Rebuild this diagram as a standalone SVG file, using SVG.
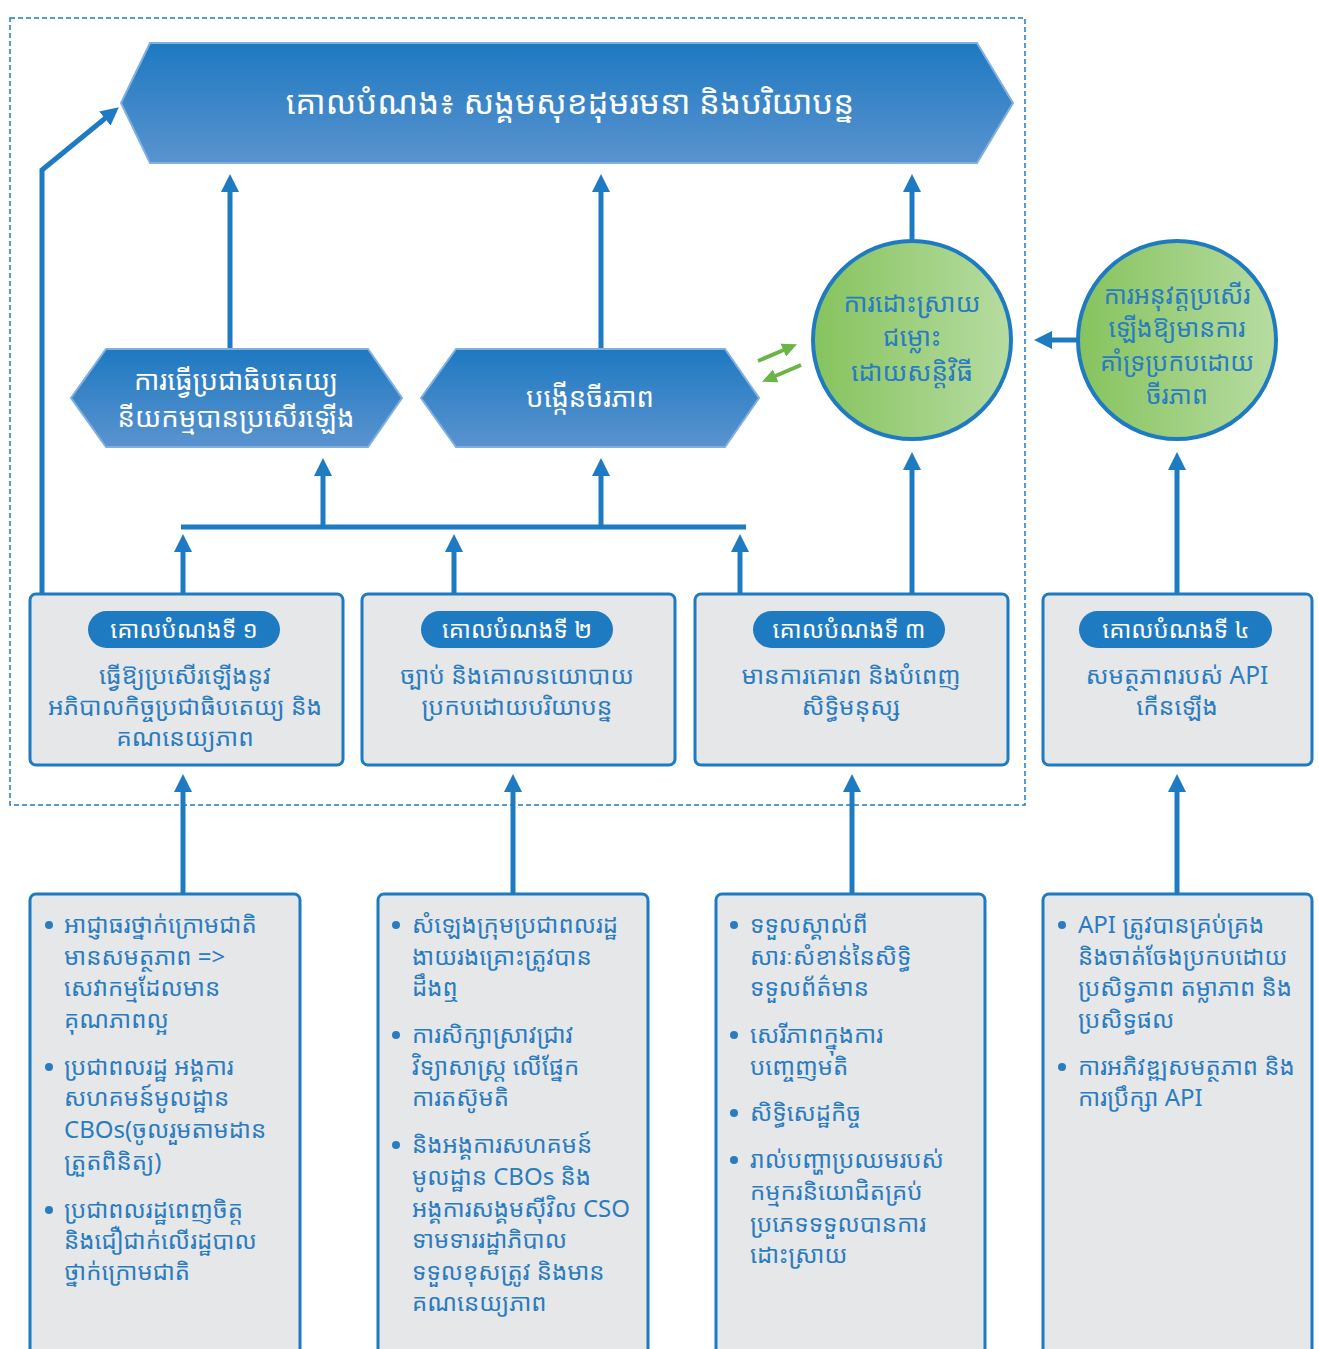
<svg xmlns="http://www.w3.org/2000/svg" width="1319" height="1349" viewBox="0 0 1319 1349">
<style>
.k{font-family:"Noto Sans Khmer","Khmer OS System","Khmer OS","Noto Sans",sans-serif;}
.hex{stroke:#7fb0e0;stroke-width:2;}
.ht{fill:#ffffff;text-anchor:middle;}
.circ{stroke:#1f7bc1;stroke-width:4;}
.ct{fill:#2a7cc0;text-anchor:middle;}
.box{fill:#e6e7e9;stroke:#1f7bc1;stroke-width:3;}
.pill{fill:#1f7bc1;}
.pt{fill:#ffffff;font-size:24px;text-anchor:middle;}
.gt{fill:#2a7cc0;font-size:24.5px;text-anchor:middle;}
.bt{fill:#2a7cc0;font-size:24px;}
.dot{fill:#2a7cc0;}
.con{fill:none;stroke:#1f7bc1;stroke-width:5;}
.g{fill:none;stroke:#6ab546;stroke-width:4;}
</style>
<defs>
<linearGradient id="hg" x1="0" y1="0" x2="0" y2="1">
<stop offset="0" stop-color="#1e79c1"/>
<stop offset="1" stop-color="#5a93cf"/>
</linearGradient>
<linearGradient id="cg" x1="0" y1="0" x2="1" y2="0">
<stop offset="0" stop-color="#86c35d"/>
<stop offset="1" stop-color="#b7dca2"/>
</linearGradient>
<marker id="ah" markerUnits="userSpaceOnUse" markerWidth="20" markerHeight="20" viewBox="0 0 20 20" refX="4" refY="10" orient="auto">
<path d="M0,1 L18,10 L0,19 z" fill="#1f7bc1"/>
</marker>
<marker id="ag" markerUnits="userSpaceOnUse" markerWidth="16" markerHeight="16" viewBox="0 0 16 16" refX="3" refY="8" orient="auto">
<path d="M0,1 L15,8 L0,15 z" fill="#6ab546"/>
</marker>
</defs>
<rect x="10" y="18" width="1015" height="787" fill="none" stroke="#1f7bc1" stroke-width="1.5" stroke-dasharray="5 3"/>

<g id="connectors">
<path class="con" d="M42,593 V170 L108,116" marker-end="url(#ah)"/>
<path class="con" d="M230,348 V188" marker-end="url(#ah)"/>
<path class="con" d="M601,348 V188" marker-end="url(#ah)"/>
<path class="con" d="M912,240 V188" marker-end="url(#ah)"/>
<path class="con" d="M323,527 V472" marker-end="url(#ah)"/>
<path class="con" d="M601,527 V472" marker-end="url(#ah)"/>
<path class="con" d="M181,527 H746"/>
<path class="con" d="M183,593 V548" marker-end="url(#ah)"/>
<path class="con" d="M454,593 V548" marker-end="url(#ah)"/>
<path class="con" d="M740,593 V548" marker-end="url(#ah)"/>
<path class="con" d="M912,593 V466" marker-end="url(#ah)"/>
<path class="con" d="M1177,593 V466" marker-end="url(#ah)"/>
<path class="con" d="M1077,340 H1048" marker-end="url(#ah)"/>
<path class="con" d="M183,893 V788" marker-end="url(#ah)"/>
<path class="con" d="M513,893 V788" marker-end="url(#ah)"/>
<path class="con" d="M852,893 V788" marker-end="url(#ah)"/>
<path class="con" d="M1177,893 V788" marker-end="url(#ah)"/>
<path class="g" d="M758,361 L786,349" marker-end="url(#ag)"/>
<path class="g" d="M801,365 L773,377" marker-end="url(#ag)"/>
</g>

<g id="goal">
<polygon class="hex" fill="url(#hg)" points="150,43 977,43 1013,103 977,163 150,163 121,103"/>
<text class="k ht" x="570" y="114" font-size="33">គោលបំណង៖ សង្គមសុខដុមរមនា និងបរិយាបន្ន</text>
</g>

<g id="democracy">
<polygon class="hex" fill="url(#hg)" points="106,349 368,349 402,398 368,447 106,447 71,398"/>
<text class="k ht" x="236" y="390" font-size="27.5">ការធ្វើប្រជាធិបតេយ្យ</text>
<text class="k ht" x="236" y="427" font-size="27.5">នីយកម្មបានប្រសើរឡើង</text>
</g>

<g id="sustain">
<polygon class="hex" fill="url(#hg)" points="456,349 725,349 759,398 725,447 456,447 421,398"/>
<text class="k ht" x="590" y="407" font-size="27.5">បង្កើនចីរភាព</text>
</g>

<g id="conflict">
<circle class="circ" cx="912" cy="340" r="99" fill="url(#cg)"/>
<text class="k ct" x="912" y="312" font-size="26">ការដោះស្រាយ</text>
<text class="k ct" x="912" y="346" font-size="26">ជម្លោះ</text>
<text class="k ct" x="912" y="381" font-size="26">ដោយសន្តិវិធី</text>
</g>

<g id="support">
<circle class="circ" cx="1177" cy="340" r="99" fill="url(#cg)"/>
<text class="k ct" x="1177" y="304" font-size="25">ការអនុវត្តប្រសើរ</text>
<text class="k ct" x="1177" y="337" font-size="25">ឡើងឱ្យមានការ</text>
<text class="k ct" x="1177" y="371" font-size="25">គាំទ្រប្រកបដោយ</text>
<text class="k ct" x="1177" y="404" font-size="25">ចីរភាព</text>
</g>

<g id="obj1">
<rect class="box" x="30" y="594" width="313" height="171" rx="6"/>
<rect class="pill" x="88" y="611" width="192" height="37" rx="18.5"/>
<text class="k pt" x="184" y="638">គោលបំណងទី ១</text>
<text class="k gt" x="185" y="684">ធ្វើឱ្យប្រសើរឡើងនូវ</text>
<text class="k gt" x="185" y="715">អភិបាលកិច្ចប្រជាធិបតេយ្យ និង</text>
<text class="k gt" x="185" y="746">គណនេយ្យភាព</text>
</g>

<g id="obj2">
<rect class="box" x="362" y="594" width="313" height="171" rx="6"/>
<rect class="pill" x="421" y="611" width="192" height="37" rx="18.5"/>
<text class="k pt" x="517" y="638">គោលបំណងទី ២</text>
<text class="k gt" x="517" y="684">ច្បាប់ និងគោលនយោបាយ</text>
<text class="k gt" x="517" y="715">ប្រកបដោយបរិយាបន្ន</text>
</g>

<g id="obj3">
<rect class="box" x="695" y="594" width="313" height="171" rx="6"/>
<rect class="pill" x="753" y="611" width="192" height="37" rx="18.5"/>
<text class="k pt" x="849" y="638">គោលបំណងទី ៣</text>
<text class="k gt" x="851" y="684">មានការគោរព និងបំពេញ</text>
<text class="k gt" x="851" y="715">សិទ្ធិមនុស្ស</text>
</g>

<g id="obj4">
<rect class="box" x="1043" y="594" width="269" height="171" rx="6"/>
<rect class="pill" x="1079" y="611" width="193" height="37" rx="18.5"/>
<text class="k pt" x="1176" y="638">គោលបំណងទី ៤</text>
<text class="k gt" x="1177" y="684">សមត្ថភាពរបស់ API</text>
<text class="k gt" x="1177" y="715">កើនឡើង</text>
</g>

<g id="out1">
<rect class="box" x="30" y="894" width="270" height="470" rx="6"/>
<circle class="dot" cx="49" cy="925" r="4"/>
<text class="k bt" x="64" y="933">អាជ្ញាធរថ្នាក់ក្រោមជាតិ</text>
<text class="k bt" x="64" y="965">មានសមត្ថភាព =&gt;</text>
<text class="k bt" x="64" y="996">សេវាកម្មដែលមាន</text>
<text class="k bt" x="64" y="1028">គុណភាពល្អ</text>
<circle class="dot" cx="49" cy="1067" r="4"/>
<text class="k bt" x="64" y="1075">ប្រជាពលរដ្ឋ អង្គការ</text>
<text class="k bt" x="64" y="1106">សហគមន៍មូលដ្ឋាន</text>
<text class="k bt" x="64" y="1138">CBOs(ចូលរួមតាមដាន</text>
<text class="k bt" x="64" y="1170">ត្រួតពិនិត្យ)</text>
<circle class="dot" cx="49" cy="1210" r="4"/>
<text class="k bt" x="64" y="1218">ប្រជាពលរដ្ឋពេញចិត្ត</text>
<text class="k bt" x="64" y="1249">និងជឿជាក់លើរដ្ឋបាល</text>
<text class="k bt" x="64" y="1280">ថ្នាក់ក្រោមជាតិ</text>
</g>

<g id="out2">
<rect class="box" x="378" y="894" width="270" height="470" rx="6"/>
<circle class="dot" cx="396" cy="925" r="4"/>
<text class="k bt" x="412" y="933">សំឡេងក្រុមប្រជាពលរដ្ឋ</text>
<text class="k bt" x="412" y="965">ងាយរងគ្រោះត្រូវបាន</text>
<text class="k bt" x="412" y="996">ដឹងឮ</text>
<circle class="dot" cx="396" cy="1035" r="4"/>
<text class="k bt" x="412" y="1043">ការសិក្សាស្រាវជ្រាវ</text>
<text class="k bt" x="412" y="1075">វិទ្យាសាស្ត្រ លើផ្នែក</text>
<text class="k bt" x="412" y="1106">ការតស៊ូមតិ</text>
<circle class="dot" cx="396" cy="1145" r="4"/>
<text class="k bt" x="412" y="1153">និងអង្គការសហគមន៍</text>
<text class="k bt" x="412" y="1185">មូលដ្ឋាន CBOs និង</text>
<text class="k bt" x="412" y="1217">អង្គការសង្គមស៊ីវិល CSO</text>
<text class="k bt" x="412" y="1248">ទាមទាររដ្ឋាភិបាល</text>
<text class="k bt" x="412" y="1280">ទទួលខុសត្រូវ និងមាន</text>
<text class="k bt" x="412" y="1311">គណនេយ្យភាព</text>
</g>

<g id="out3">
<rect class="box" x="716" y="894" width="269" height="470" rx="6"/>
<circle class="dot" cx="734" cy="925" r="4"/>
<text class="k bt" x="750" y="933">ទទួលស្គាល់ពី</text>
<text class="k bt" x="750" y="965">សារៈសំខាន់នៃសិទ្ធិ</text>
<text class="k bt" x="750" y="996">ទទួលព័ត៌មាន</text>
<circle class="dot" cx="734" cy="1035" r="4"/>
<text class="k bt" x="750" y="1043">សេរីភាពក្នុងការ</text>
<text class="k bt" x="750" y="1075">បញ្ចេញមតិ</text>
<circle class="dot" cx="734" cy="1113" r="4"/>
<text class="k bt" x="750" y="1121">សិទ្ធិសេដ្ឋកិច្ច</text>
<circle class="dot" cx="734" cy="1160" r="4"/>
<text class="k bt" x="750" y="1168">រាល់បញ្ហាប្រឈមរបស់</text>
<text class="k bt" x="750" y="1200">កម្មករនិយោជិតគ្រប់</text>
<text class="k bt" x="750" y="1232">ប្រភេទទទួលបានការ</text>
<text class="k bt" x="750" y="1263">ដោះស្រាយ</text>
</g>

<g id="out4">
<rect class="box" x="1043" y="894" width="269" height="470" rx="6"/>
<circle class="dot" cx="1062" cy="925" r="4"/>
<text class="k bt" x="1078" y="933">API ត្រូវបានគ្រប់គ្រង</text>
<text class="k bt" x="1078" y="965">និងចាត់ចែងប្រកបដោយ</text>
<text class="k bt" x="1078" y="996">ប្រសិទ្ធភាព តម្លាភាព  និង</text>
<text class="k bt" x="1078" y="1028">ប្រសិទ្ធផល</text>
<circle class="dot" cx="1062" cy="1067" r="4"/>
<text class="k bt" x="1078" y="1075">ការអភិវឌ្ឍសមត្ថភាព  និង</text>
<text class="k bt" x="1078" y="1106">ការប្រឹក្សា API</text>
</g>
</svg>
